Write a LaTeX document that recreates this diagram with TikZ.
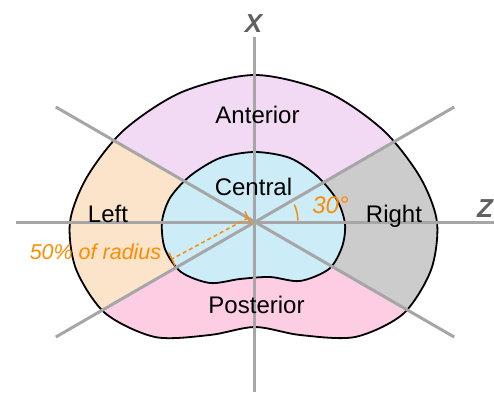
\documentclass[tikz,border=0pt]{standalone}
\usepackage{fontspec}
\setmainfont{Liberation Sans}
\usetikzlibrary{calc}

\definecolor{antcol}{RGB}{242,218,245}
\definecolor{leftcol}{RGB}{252,228,202}
\definecolor{rightcol}{RGB}{204,204,204}
\definecolor{postcol}{RGB}{253,205,228}
\definecolor{centcol}{RGB}{204,236,248}
\definecolor{axiscol}{RGB}{166,166,166}
\definecolor{axlabcol}{RGB}{96,96,96}
\definecolor{notecol}{RGB}{255,140,0}

% outer and inner outline of the section
\newcommand{\kidneyouter}{plot[smooth cycle] coordinates {
    (0,147) (72,130) (128,92) (165,45) (182,0) (176,-48)
    (148,-92) (100,-115) (45,-113) (0,-105) (-45,-113) (-100,-115)
    (-150,-91) (-179,-47) (-185,0) (-168,45) (-131,92) (-73,130)}}
\newcommand{\kidneyinner}{plot[smooth cycle] coordinates {
    (0,70) (35,64) (62,46) (82,22) (90,-2) (87,-25) (74,-47) (45,-59)
    (15,-55) (-15,-57) (-45,-61) (-74,-50) (-90,-27) (-93,0) (-85,24)
    (-65,46) (-35,64)}}

\begin{document}
\begin{tikzpicture}[x=0.5pt, y=0.5pt]
    \tikzset{
        axis/.style={line width=1.5pt, draw=axiscol},
        outline/.style={line width=0.9pt, draw=black},
        region/.style={font=\fontsize{12}{14}\selectfont, anchor=base, inner sep=0pt},
        axlabel/.style={font=\fontsize{13}{15}\selectfont\bfseries\itshape,
        text=axlabcol, inner sep=0pt},
        note/.style={font=\fontsize{12}{14}\selectfont\itshape, text=notecol,
        anchor=base, inner sep=0pt},
        dim/.style={draw=notecol, line width=0.75pt}
    }
    \useasboundingbox (-255,-170) rectangle (239,222);

    % coloured sectors
    \begin{scope}
        \clip \kidneyouter;
        \fill[antcol] (0,0) -- (30:300) -- (90:300) -- (150:300) -- cycle;
        \fill[leftcol] (0,0) -- (150:300) -- (180:300) -- (210:300) -- cycle;
        \fill[postcol] (0,0) -- (210:300) -- (270:300) -- (330:300) -- cycle;
        \fill[rightcol] (0,0) -- (330:300) -- (0:300) -- (30:300) -- cycle;
    \end{scope}
    \fill[centcol] \kidneyinner;
    \draw[outline] \kidneyinner;
    \draw[outline] \kidneyouter;

    % axes
    \coordinate (o) at (0,0);
    \coordinate (zl) at (-239,0);
    \coordinate (zr) at (239,0);
    \coordinate (xt) at (0,185);
    \coordinate (xb) at (0,-170);
    \coordinate (ul) at (150:230);
    \coordinate (lr) at (330:230);
    \coordinate (ur) at (30:230);
    \coordinate (ll) at (210:230);
    \draw[axis] (zl) -- (zr);
    \draw[axis] (xt) -- (xb);
    \draw[axis] (ul) -- (lr);
    \draw[axis] (ll) -- (ur);

    \node (xlab) [axlabel] at (-1.5,198) {X};
    \node (zlab) [axlabel] at (230,13.5) {Z};

    % angle and radius marks
    \coordinate (a0) at (2:43);
    \draw[dim] (a0) arc[start angle=2, end angle=24, radius=43];
    \coordinate (r0) at (-7,4);
    \coordinate (r1) at (-83,-37);
    \draw[dim, dash pattern=on 2pt off 1.5pt] (r0) -- (r1);
    \draw[dim] ($(r0)+(-3,6.5)$) -- ($(r0)+(3,-6.5)$);
    \draw[dim] ($(r1)+(-3,6.5)$) -- ($(r1)+(3,-6.5)$);

    \node (ant) [region] at (2.5,98) {Anterior};
    \node (cen) [region] at (-1.5,27) {Central};
    \node (lft) [region] at (-147,0) {Left};
    \node (rgt) [region] at (139,0) {Right};
    \node (pos) [region] at (1.5,-91) {Posterior};
    \node (ang) [note] at (75.5,9) {30°};
    \node (rad) [note, font=\fontsize{10.75}{12}\selectfont\itshape] at (-159.5,-37) {50\% of radius};
\end{tikzpicture}
\end{document}
